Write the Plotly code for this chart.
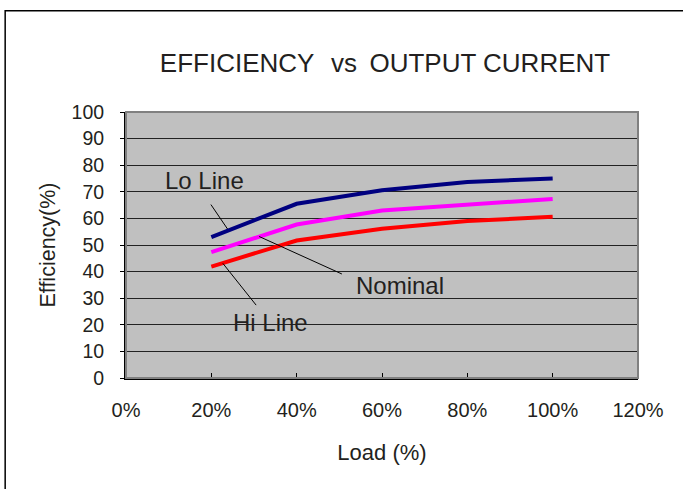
import plotly.graph_objects as go

load = [0.2, 0.4, 0.6, 0.8, 1.0]
lo_line = [53.0, 65.5, 70.6, 73.7, 75.0]
nominal = [47.3, 57.7, 63.0, 65.3, 67.3]
hi_line = [41.9, 51.7, 56.1, 59.0, 60.6]

series_names = ["Lo Line", "Nominal", "Hi Line"]
series_colors = ["#000080", "#FF00FF", "#FF0000"]
x_ticks = [0, 0.2, 0.4, 0.6, 0.8, 1.0, 1.2]
y_ticks = list(range(0, 101, 10))

FONT = "Liberation Sans, Arial, sans-serif"
TXT = "#231f20"

fig = go.Figure()
for name, vals, col in zip(series_names, [lo_line, nominal, hi_line], series_colors):
    fig.add_trace(go.Scatter(x=load, y=vals, mode="lines", name=name,
                             line=dict(color=col, width=4)))

# label annotations with leader lines (data coords)
labels = [
    ("Lo Line", 0.185, 74.3, (0.199, 65.2), (0.238, 56.0)),
    ("Nominal", 0.642, 34.7, (0.312, 53.2), (0.506, 39.1)),
    ("Hi Line", 0.3375, 20.8, (0.227, 43.1), (0.305, 27.4)),
]
for txt, tx, ty, p0, p1 in labels:
    fig.add_annotation(x=tx, y=ty, xref="x", yref="y", text=txt, showarrow=False,
                       font=dict(family=FONT, size=24, color=TXT))
    fig.add_shape(type="line", xref="x", yref="y", x0=p0[0], y0=p0[1], x1=p1[0], y1=p1[1],
                  line=dict(color="black", width=1))

# plot area border (gray)
fig.add_shape(type="rect", xref="paper", yref="paper", x0=0, y0=0, x1=1, y1=1,
              line=dict(color="#808080", width=2), layer="above")
# outer chart frame
fig.add_shape(type="rect", xref="paper", yref="paper", x0=-0.236, y0=-1.0, x1=2.0, y1=1.381,
              line=dict(color="black", width=1.5))

fig.update_layout(
    width=683, height=489,
    margin=dict(l=126, r=45, t=112, b=111),
    paper_bgcolor="white", plot_bgcolor="#C0C0C0",
    showlegend=False,
    font=dict(family=FONT, color=TXT),
    title=dict(text="EFFICIENCY&nbsp;&nbsp;\u200avs&nbsp;\u2009OUTPUT CURRENT", x=385/683, xanchor="center",
               y=1 - 63/489, yanchor="middle", font=dict(family=FONT, size=26, color=TXT)),
    xaxis=dict(range=[0, 1.2], tickvals=x_ticks, tickformat=".0%", showgrid=False,
               showline=True, linecolor="black", linewidth=2, ticks="inside", ticklen=5,
               tickcolor="black", tickfont=dict(size=20), zeroline=False, ticklabelstandoff=13,
               title=dict(text="Load (%)", font=dict(size=22), standoff=25)),
    yaxis=dict(range=[0, 100], tickvals=y_ticks, showgrid=True, gridcolor="#222222", gridwidth=1,
               showline=True, linecolor="black", linewidth=2, ticks="outside", ticklen=4,
               tickcolor="black", tickfont=dict(size=19.5), zeroline=False, ticklabelstandoff=12,
               title=dict(text="Efficiency(%)", font=dict(size=21.5), standoff=10)),
)

fig.write_html("out.html", post_script="document.body.style.margin='0';",
               config={"displayModeBar": False})
